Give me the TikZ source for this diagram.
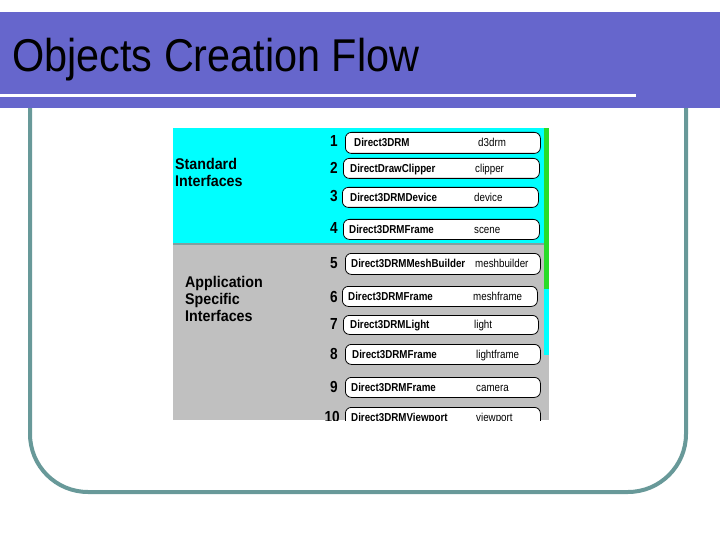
\documentclass[tikz,border=0pt]{standalone}
\usepackage{fontspec}
\setmainfont{Liberation Sans}
\definecolor{bandc}{RGB}{102,102,204}
\definecolor{framec}{RGB}{104,153,153}
\definecolor{cyanbg}{RGB}{0,255,255}
\definecolor{greybg}{RGB}{192,192,192}
\definecolor{sepc}{RGB}{128,160,160}
\definecolor{barg}{RGB}{40,220,40}
\tikzset{
  ibox/.style={draw=black, line width=0.8pt, rounded corners=6pt, fill=white, inner sep=0pt, anchor=north west},
  lt/.style={font=\fontsize{11.5}{11.5}\selectfont\bfseries, inner sep=0pt, anchor=base west},
  rt/.style={font=\fontsize{11.5}{11.5}\selectfont, inner sep=0pt, anchor=base west},
  num/.style={font=\fontsize{16}{16}\selectfont\bfseries, inner sep=0pt, anchor=east},
  hd/.style={font=\fontsize{15.5}{17}\selectfont\bfseries, inner sep=0pt, anchor=base west},
  framestyle/.style={draw=framec, line width=4pt, rounded corners=58pt}
}
\newcommand\rowbox[9]{%
  \node[ibox, minimum width=#4pt-#2pt, minimum height=#5pt-#3pt] (#1) at (#2,#3) {};
  \node[lt] (#1l) at (#6,{(#3+#5)/2+4.2}) {\scalebox{0.85}[1]{#7}};
  \node[rt] (#1r) at (#8,{(#3+#5)/2+4.2}) {\scalebox{0.85}[1]{#9}};
}
\newcommand\numlab[3]{\node[num] (#1) at (338,#2) {\scalebox{0.85}[1]{#3}};}
\newcommand\hdlab[4]{\node[hd] (#1) at (#2,#3) {\scalebox{0.92}[1]{#4}};}
\begin{document}
\begin{tikzpicture}[x=1pt,y=-1pt]
\useasboundingbox (0,0) rectangle (720,540);
\fill[white] (0,0) rectangle (720,540);
% frame
\draw[framestyle] (30,100) -- (30,492) -- (686,492) -- (686,100);
% title band
\fill[bandc] (0,12) rectangle (720,108);
\fill[white] (0,94) rectangle (636,97.5);
\node[inner sep=0pt, anchor=base west, font=\fontsize{46}{46}\selectfont] (title) at (12,72) {\scalebox{0.9}[1]{Objects Creation Flow}};
% embedded picture
\begin{scope}
\clip (173,128) rectangle (549,420);
\fill[cyanbg] (173,128) rectangle (549,244);
\fill[greybg] (173,244) rectangle (549,420);
\draw[sepc, line width=2pt] (173,244) -- (544,244);
\fill[barg] (544,128) rectangle (549,289);
\fill[cyanbg] (544,289) rectangle (549,355);
\hdlab{std1}{175}{170}{Standard}
\hdlab{std2}{175}{187}{Interfaces}
\hdlab{app1}{185}{287.5}{Application}
\hdlab{app2}{185}{304.5}{Specific}
\hdlab{app3}{185}{321.5}{Interfaces}
\rowbox{b1}{345}{132}{540}{153}{354}{Direct3DRM}{478}{d3drm}
\rowbox{b2}{343}{158}{539}{178}{350}{DirectDrawClipper}{475}{clipper}
\rowbox{b3}{342}{187}{538}{207}{350}{Direct3DRMDevice}{474}{device}
\rowbox{b4}{343}{219}{539}{239}{349}{Direct3DRMFrame}{474}{scene}
\rowbox{b5}{345}{253}{540}{274}{351}{Direct3DRMMeshBuilder}{475}{meshbuilder}
\rowbox{b6}{342}{286}{537}{306}{348}{Direct3DRMFrame}{473}{meshframe}
\rowbox{b7}{343}{315}{538}{334}{350}{Direct3DRMLight}{474}{light}
\rowbox{b8}{345}{344}{540}{364}{352}{Direct3DRMFrame}{476}{lightframe}
\rowbox{b9}{345}{377}{540}{397}{351}{Direct3DRMFrame}{476}{camera}
\rowbox{b10}{345}{407}{540}{427}{351}{Direct3DRMViewport}{476}{viewport}
\numlab{n1}{141}{1}
\numlab{n2}{168}{2}
\numlab{n3}{196}{3}
\numlab{n4}{228}{4}
\numlab{n5}{263}{5}
\numlab{n6}{297}{6}
\numlab{n7}{324}{7}
\numlab{n8}{354}{8}
\numlab{n9}{387}{9}
\node[num] (n10) at (340,417) {\scalebox{0.85}[1]{10}};
\end{scope}
\end{tikzpicture}
\end{document}
